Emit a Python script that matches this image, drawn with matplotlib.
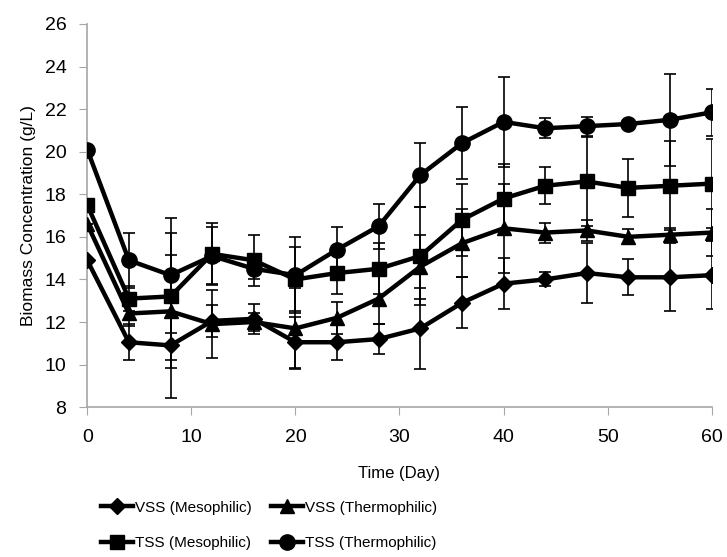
import matplotlib as mpl
mpl.use('Agg')
import matplotlib.pyplot as plt

plt.rcParams['font.family'] = ['Liberation Sans', 'DejaVu Sans']

days = [0, 4, 8, 12, 16, 20, 24, 28, 32, 36, 40, 44, 48, 52, 56, 60]

vss_meso = [14.9, 11.05, 10.9, 12.05, 12.15, 11.05, 11.05, 11.2, 11.7, 12.9, 13.8, 14.0, 14.3, 14.1, 14.1, 14.2]
vss_meso_err = [0, 0.85, 2.46, 0.75, 0.7, 1.2, 0.85, 0.7, 1.9, 1.2, 1.2, 0.33, 1.4, 0.85, 1.6, 1.6]

vss_thermo = [16.6, 12.4, 12.5, 11.9, 12.0, 11.7, 12.2, 13.1, 14.6, 15.7, 16.4, 16.2, 16.3, 16.0, 16.1, 16.2]
vss_thermo_err = [0, 0.6, 2.65, 1.6, 0.4, 1.9, 0.75, 1.2, 1.5, 1.6, 2.1, 0.47, 0.5, 0.35, 0.3, 1.1]

tss_meso = [17.5, 13.1, 13.2, 15.2, 14.9, 14.0, 14.3, 14.5, 15.1, 16.8, 17.8, 18.4, 18.6, 18.3, 18.4, 18.5]
tss_meso_err = [0, 0.6, 3.0, 1.43, 1.2, 1.5, 1.0, 1.2, 2.3, 1.7, 1.6, 0.87, 2.1, 1.35, 2.1, 2.1]

tss_thermo = [20.1, 14.9, 14.2, 15.1, 14.5, 14.2, 15.4, 16.5, 18.9, 20.4, 21.4, 21.1, 21.2, 21.3, 21.5, 21.85]
tss_thermo_err = [0, 1.3, 2.7, 1.35, 0.5, 1.8, 1.07, 1.05, 1.5, 1.7, 2.1, 0.47, 0.45, 0.2, 2.15, 1.1]

fig = plt.figure(figsize=(7.27, 5.57), dpi=100)
ax = fig.add_axes([0.12, 0.269, 0.859, 0.688])

series = [
    (vss_meso, vss_meso_err, 'D', 8, 'VSS (Mesophilic)'),
    (vss_thermo, vss_thermo_err, '^', 10, 'VSS (Thermophilic)'),
    (tss_meso, tss_meso_err, 's', 10, 'TSS (Mesophilic)'),
    (tss_thermo, tss_thermo_err, 'o', 11, 'TSS (Thermophilic)'),
]

handles = []
for vals, err, mk, ms, lab in series:
    ax.errorbar(days, vals, yerr=err, fmt='none', ecolor='black', elinewidth=1.2,
                capsize=4.5, capthick=1.2, zorder=2)
    h, = ax.plot(days, vals, color='black', lw=3.2, marker=mk, ms=ms,
                 markerfacecolor='black', markeredgecolor='black', label=lab, zorder=3)
    handles.append(h)

ax.set_xlim(0, 60)
ax.set_ylim(8, 26)
ax.set_xticks(range(0, 61, 10))
ax.set_yticks(range(8, 27, 2))
for s in ['top', 'right']:
    ax.spines[s].set_visible(False)
for s in ['left', 'bottom']:
    ax.spines[s].set_color('#a6a6a6')
    ax.spines[s].set_linewidth(1.2)
ax.tick_params(axis='x', direction='out', length=6, color='#a6a6a6', labelsize=14, pad=10)
ax.tick_params(axis='y', direction='out', length=6, color='#a6a6a6', labelsize=14, pad=9)
ax.set_xlabel('Time (Day)', fontsize=12, labelpad=14)
ax.set_ylabel('Biomass Concentration (g/L)', fontsize=12.5, labelpad=6)

# legend fills columns first, so order handles to get VSS on the first row
order = [0, 2, 1, 3]
fig.legend([handles[i] for i in order], [series[i][4] for i in order],
           loc='lower center', bbox_to_anchor=(0.37, -0.012), ncol=2, frameon=False,
           fontsize=11, handlelength=2.1, columnspacing=1.3, labelspacing=1.4,
           handletextpad=0.1)

fig.savefig('out.png', dpi=100)
